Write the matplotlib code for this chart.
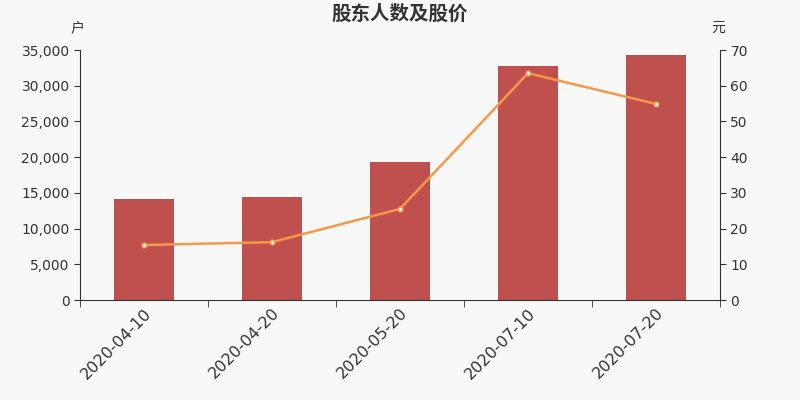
import numpy as np
import matplotlib.pyplot as plt
from matplotlib.ticker import FuncFormatter, MultipleLocator

plt.rcParams['font.family'] = ['DejaVu Sans', 'Noto Sans CJK SC']

dates = ['2020-04-10', '2020-04-20', '2020-05-20', '2020-07-10', '2020-07-20']
holders = [14140, 14490, 19320, 32830, 34300]
price = [15.4, 16.2, 25.5, 63.5, 54.9]

bg = '#f8f8f8'
fig = plt.figure(figsize=(8, 4), dpi=100, facecolor=bg)
ax = fig.add_axes([0.1, 0.25, 0.8, 0.625], facecolor=bg)
ax2 = ax.twinx()

x = np.arange(len(dates))
ax.bar(x, holders, width=0.47, color='#c0504d', zorder=2)
ax2.plot(x, price, color='#f5984a', lw=1.8, marker='o', ms=3.5,
         mfc='white', mec='#f5984a', mew=1, zorder=3)

ax.set_xlim(-0.5, len(dates) - 0.5)
ax.set_ylim(0, 35000)
ax2.set_ylim(0, 70)
ax.yaxis.set_major_locator(MultipleLocator(5000))
ax2.yaxis.set_major_locator(MultipleLocator(10))
ax.yaxis.set_major_formatter(FuncFormatter(lambda v, p: f'{int(v):,}'))

ax.set_xticks(x)
ax.set_xticklabels(dates, rotation=45, ha='right', rotation_mode='anchor',
                   fontsize=11.5, color='#333333')
ax.set_xticks(np.arange(len(dates) + 1) - 0.5, minor=True)
ax.tick_params(axis='x', which='major', length=0, pad=4)
ax.tick_params(axis='x', which='minor', length=5, color='#333333')

for a in (ax, ax2):
    a.spines['top'].set_visible(False)
    a.tick_params(axis='y', labelsize=10, labelcolor='#333333', color='#333333', length=4)
ax.spines['right'].set_visible(False)
ax2.spines['left'].set_visible(False)
ax2.spines['bottom'].set_visible(False)
ax.spines['left'].set_color('#333333')
ax.spines['bottom'].set_color('#333333')
ax2.spines['right'].set_color('#333333')

cjk = ['Noto Sans CJK SC', 'DejaVu Sans']
fig.text(0.5, 0.965, '股东人数及股价', ha='center', va='center', family=cjk,
         fontsize=14, fontweight='bold', color='#333333')
fig.text(0.097, 0.93, '户', ha='center', va='center', family=cjk, fontsize=10, color='#333333')
fig.text(0.898, 0.93, '元', ha='center', va='center', family=cjk, fontsize=10, color='#333333')

fig.savefig('out.png', dpi=100, facecolor=bg)
